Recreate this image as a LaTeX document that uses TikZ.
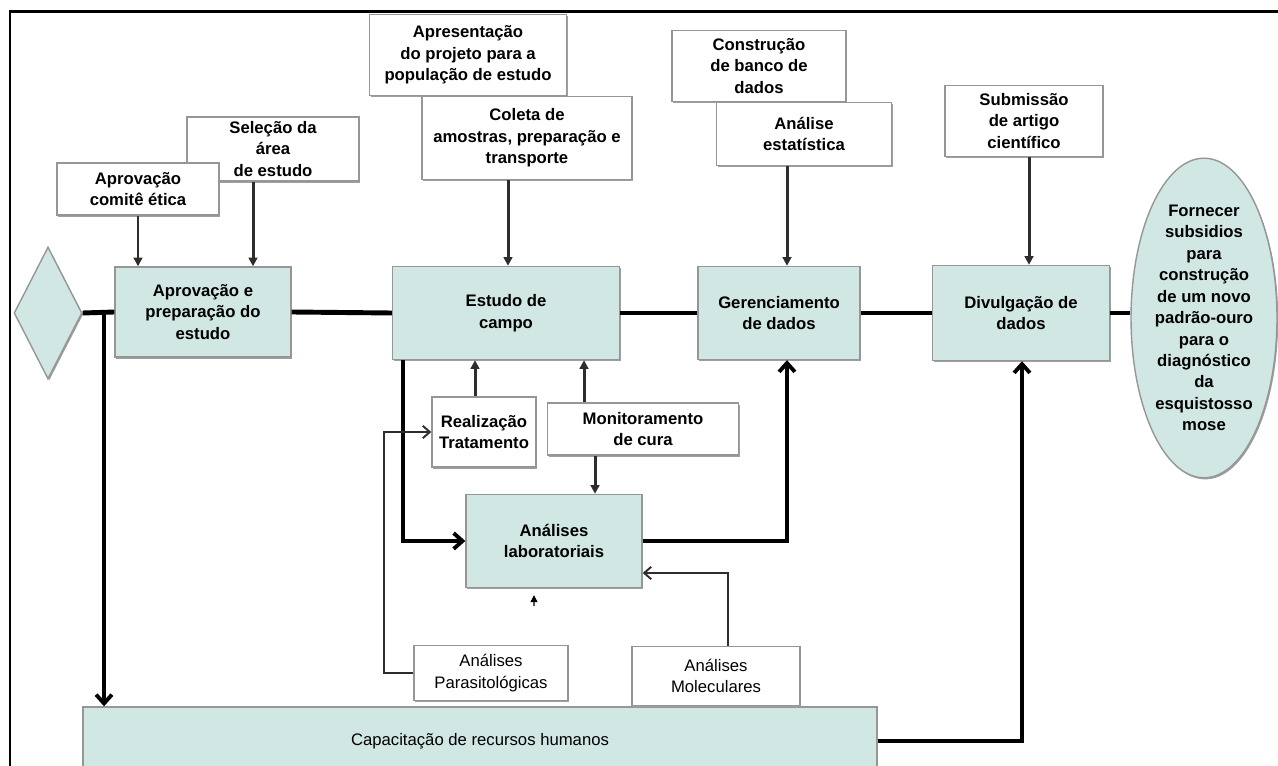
\documentclass[tikz,border=0pt]{standalone}
\usepackage{fontspec}
\setmainfont{Liberation Sans}
\usetikzlibrary{arrows.meta,shapes.geometric,shadows}

\definecolor{caixa}{RGB}{208,231,228}
\definecolor{borda}{RGB}{150,150,150}
\definecolor{seta}{RGB}{45,45,45}

\begin{document}
\begin{tikzpicture}[x=0.02cm,y=-0.02cm,
  every node/.style={font=\fontsize{9.5}{12.2}\selectfont\bfseries,align=center,inner sep=1pt},
  sombra/.style={drop shadow={shadow xshift=0.7pt,shadow yshift=-0.9pt,fill=gray!75,opacity=1}},
  etapa/.style={draw=borda,fill=caixa,line width=0.8pt,sombra},
  nota/.style={draw=borda,fill=white,line width=0.8pt,sombra},
  leve/.style={font=\fontsize{9.5}{12.2}\selectfont},
  fluxo/.style={line width=2.8pt},
  grosso/.style={line width=2.2pt},
  medio/.style={line width=1.7pt,seta},
  fino/.style={line width=1.1pt,seta},
  cheia/.style={-{Triangle[length=5pt,width=5pt]}},
  aberta/.style={-{Straight Barb[length=5pt,width=9pt]}},
  abertafina/.style={-{Straight Barb[length=4pt,width=7pt]}}]
\useasboundingbox (0,0) rectangle (1278,766);
\draw[line width=1.7pt] (10,766) -- (10,12) -- (1278,12);

% etapas principais
\node[etapa,diamond,minimum width=1.36cm,minimum height=2.64cm,inner sep=0pt] (losango) at (48,313) {};
\node[etapa,minimum width=3.52cm,minimum height=1.8cm] (aprov) at (203,312) {Aprovação e\\preparação do\\estudo};
\node[etapa,minimum width=4.54cm,minimum height=1.86cm] (campo) at (506,313) {Estudo de\\campo};
\node[etapa,minimum width=3.24cm,minimum height=1.86cm] (geren) at (779,313) {Gerenciamento\\de dados};
\node[etapa,minimum width=3.54cm,minimum height=1.9cm] (divul) at (1021,313) {Divulgação de\\dados};
\node[etapa,ellipse,minimum width=2.92cm,minimum height=5.92cm,inner sep=0pt] (fornecer) at (1204,318)
  {Fornecer\\subsidios\\para\\construção\\de um novo\\padrão-ouro\\para o\\diagnóstico\\da\\esquistosso\\mose};
\node[etapa,minimum width=3.52cm,minimum height=1.86cm] (lab) at (554,541) {Análises\\laboratoriais};
\node[etapa,leve,minimum width=15.88cm,minimum height=1.36cm] (capac) at (480,741) {Capacitação de recursos humanos};

% atividades
\node[nota,minimum width=3.44cm,minimum height=1.28cm] (selecao) at (273,149) {Seleção da\\área\\de estudo};
\node[nota,minimum width=3.24cm,minimum height=1.04cm] (comite) at (138,189) {Aprovação\\comitê ética};
\node[nota,minimum width=3.94cm,minimum height=1.62cm] (apresent) at (468,55) {Apresentação\\do projeto para a\\população de estudo};
\node[nota,minimum width=4.2cm,minimum height=1.66cm] (coleta) at (527,138) {Coleta de\\amostras, preparação e\\transporte};
\node[nota,minimum width=3.48cm,minimum height=1.42cm] (construcao) at (759,66) {Construção\\de banco de\\dados};
\node[nota,minimum width=3.5cm,minimum height=1.26cm] (estat) at (804,134) {Análise\\estatística};
\node[nota,minimum width=3.16cm,minimum height=1.42cm] (submissao) at (1024,121) {Submissão\\de artigo\\científico};
\node[nota,minimum width=2.08cm,minimum height=1.4cm,inner sep=0pt] (realiz) at (484,432) {Realização\\Tratamento};
\node[nota,minimum width=3.82cm,minimum height=1.04cm] (monit) at (643,429) {Monitoramento\\de cura};
\node[nota,leve,minimum width=3.08cm,minimum height=1.1cm] (parasit) at (491,673) {Análises\\Parasitológicas};
\node[nota,leve,minimum width=3.36cm,minimum height=1.18cm] (molec) at (716,676) {Análises\\Moleculares};

% linha principal
\draw[fluxo] (losango.east) -- (aprov.west);
\draw[fluxo] (aprov.east) -- (campo.west);
\draw[fluxo] (campo.east) -- (geren.west);
\draw[fluxo] (geren.east) -- (divul.west);
\draw[fluxo] (divul.east) -- (divul.east -| fornecer.west);
\coordinate (desvio) at (104,313);
\draw[grosso,aberta] (desvio) -- (desvio |- capac.north);
\draw[grosso,aberta] (capac.east) -| ([xshift=0.02cm]divul.south);

% entradas de cima
\draw[medio,cheia] (comite.south) -- (comite.south |- aprov.north);
\draw[medio,cheia] ([xshift=-0.4cm]selecao.south) -- ([xshift=-0.4cm]selecao.south |- aprov.north);
\draw[medio,cheia] ([xshift=-0.38cm]coleta.south) -- ([xshift=-0.38cm]coleta.south |- campo.north);
\draw[medio,cheia] ([xshift=-0.34cm]estat.south) -- ([xshift=-0.34cm]estat.south |- geren.north);
\draw[medio,cheia] ([xshift=0.1cm]submissao.south) -- ([xshift=0.1cm]submissao.south |- divul.north);

% campo e laboratorio
\draw[medio,cheia] ([xshift=-0.18cm]realiz.north) -- ([xshift=-0.18cm]realiz.north |- campo.south);
\draw[medio,cheia] ([xshift=-1.18cm]monit.north) -- ([xshift=-1.18cm]monit.north |- campo.south);
\draw[medio,cheia] ([xshift=-0.96cm]monit.south) -- ([xshift=-0.96cm]monit.south |- lab.north);
\draw[grosso,aberta] ([xshift=-2.06cm]campo.south) |- (lab.west);
\draw[grosso,aberta] (lab.east) -| ([xshift=0.16cm]geren.south);
\draw[fino,abertafina] ([xshift=0.24cm]molec.north) |- ([yshift=-0.64cm]lab.east);
\draw[fino,abertafina] (parasit.west) -- ++(-29,0) |- (realiz.west);
\coordinate (toco) at (534,606);
\draw[line width=0.6pt,-{Triangle[length=4pt,width=4pt]}] (toco) -- ([xshift=-0.4cm,yshift=-0.14cm]lab.south);
\end{tikzpicture}
\end{document}
